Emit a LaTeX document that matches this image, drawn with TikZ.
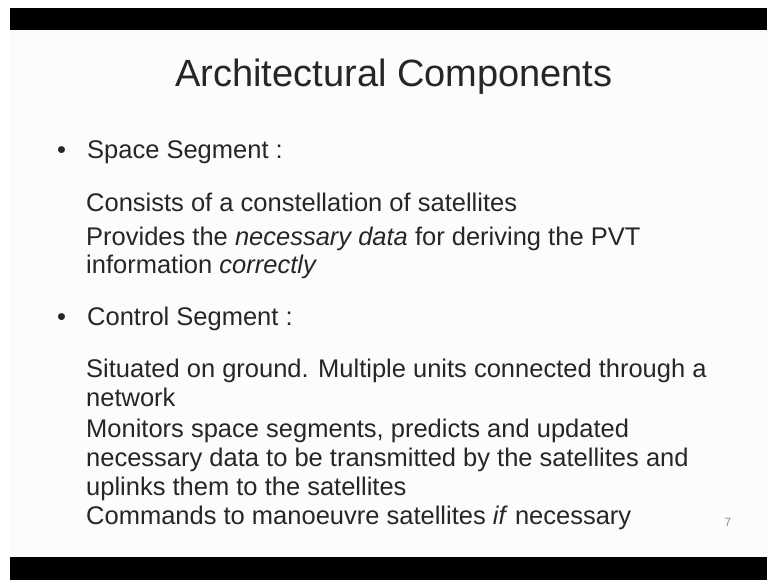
\documentclass[tikz,border=0pt]{standalone}
\usepackage{fontspec}
\setmainfont{Liberation Sans}
\usepackage{xcolor}
\usetikzlibrary{positioning}

\definecolor{slidetext}{HTML}{262626}
\definecolor{slidebg}{HTML}{FCFCFC}

\begin{document}
\begin{tikzpicture}[
    x=1pt, y=1pt,
    every node/.style={inner sep=0pt, text=slidetext},
    slidetitle/.style={font=\fontsize{38}{44}\selectfont, anchor=base},
    bulletline/.style={font=\fontsize{25.5}{30}\selectfont, anchor=base west},
    bodyline/.style={font=\fontsize{25.5}{30}\selectfont, anchor=base west},
    pagenum/.style={font=\fontsize{12}{14}\selectfont, anchor=base, text=black!45}
]
\useasboundingbox (0,0) rectangle (767,580);

% background and black bars
\fill[white] (0,0) rectangle (767,580);
\fill[slidebg] (10,23) rectangle (767,550);
\fill[black] (10,550) rectangle (767,572);
\fill[black] (10,0) rectangle (767,23);

% Title
\node[slidetitle] (title) at (394,493) {Architectural Components};

% Space segment
\node[bulletline] (dot1) at (57,421) {•};
\node[bulletline] (space) at (87,421) {Space Segment :};
\node[bodyline] (s1) at (86,368) {Consists of a constellation of satellites};
\node[bodyline] (s2) at (86,334) {Provides the \textit{necessary data} for deriving the PVT};
\node[bodyline] (s3) at (86,306) {information \textit{correctly}};

% Control segment
\node[bulletline] (dot2) at (57,254) {•};
\node[bulletline] (control) at (87,254) {Control Segment :};
\node[bodyline] (c1) at (86,202) {Situated on ground. Multiple units connected through a};
\node[bodyline] (c2) at (86,173) {network};
\node[bodyline] (c3) at (86,142) {Monitors space segments, predicts and updated};
\node[bodyline] (c4) at (86,113) {necessary data to be transmitted by the satellites and};
\node[bodyline] (c5) at (86,84) {uplinks them to the satellites};
\node[bodyline] (c6) at (86,55) {Commands to manoeuvre satellites \textit{if} necessary};

% page number
\node[pagenum] (page) at (728,53) {7};

\end{tikzpicture}
\end{document}
